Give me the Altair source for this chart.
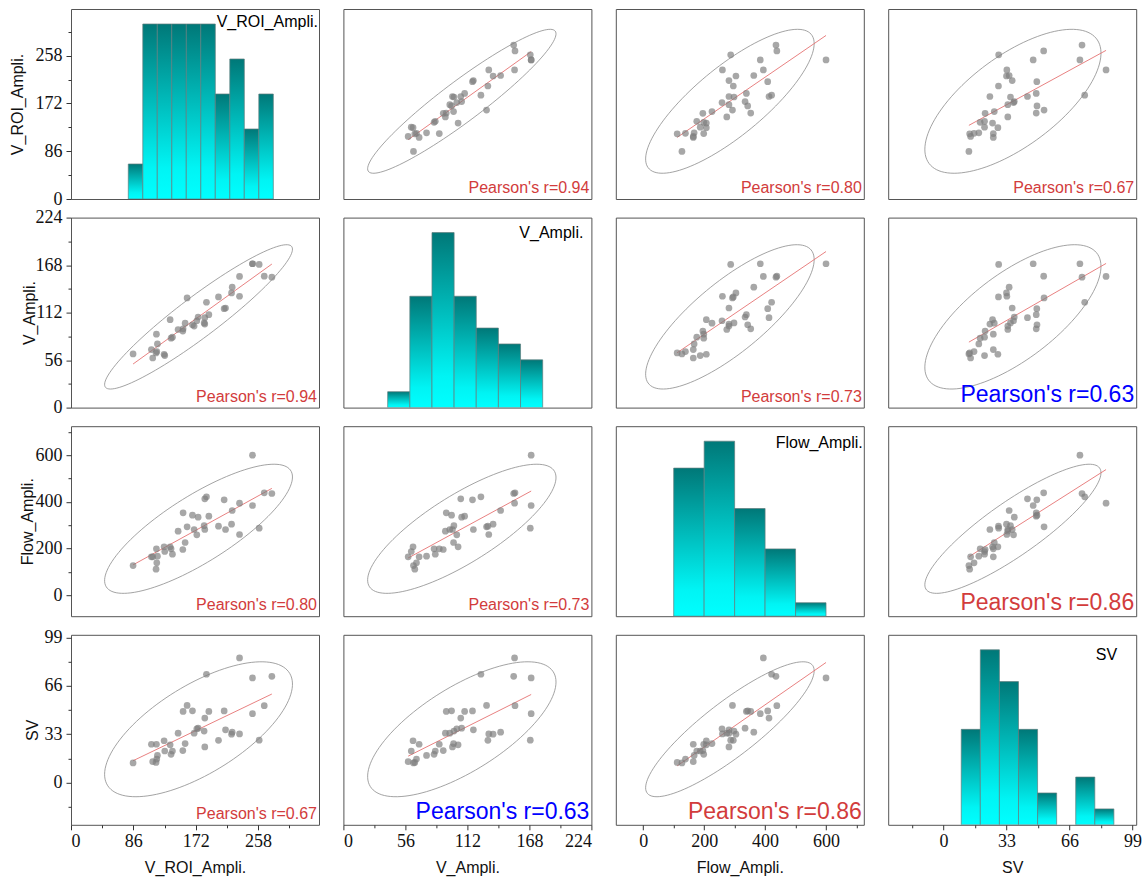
import altair as alt
import pandas as pd
import numpy as np

# ---------------- data ----------------
VAR_KEYS = ["vroi", "va", "flow", "sv"]
VAR_TITLES = ["V_ROI_Ampli.", "V_Ampli.", "Flow_Ampli.", "SV"]

V_ROI = [85.6, 110.9, 112.7, 117.8, 119.2, 118.3, 117.3, 128.4, 129.3, 136.7,
         138.0, 139.9, 147.7, 154.6, 154.2, 157.4, 160.1, 167.5, 169.8, 175.3,
         173.5, 186.8, 184.5, 183.6, 184.5, 190.1, 203.4, 211.2, 213.1, 222.3,
         221.4, 232.4, 232.4, 250.3, 250.3, 259.5, 266.5, 277.0]
V_AMPLI = [63.3, 68.4, 58.5, 86.6, 75.1, 66.0, 64.5, 62.9, 61.3, 103.6,
           81.9, 83.0, 92.1, 92.9, 90.2, 99.5, 129.3, 97.7, 96.1, 106.8,
           102.4, 124.2, 106.0, 99.8, 98.5, 109.5, 130.5, 116.6, 117.4, 142.0,
           135.2, 154.6, 131.3, 169.6, 169.6, 168.8, 155.0, 153.8]
FLOW = [127.1, 164.3, 164.3, 198.6, 167.1, 138.6, 111.4, 207.1, 187.1, 207.1,
        198.6, 175.7, 274.3, 352.9, 195.7, 225.7, 292.9, 342.9, 281.4, 334.3,
        258.6, 421.4, 412.9, 298.0, 281.4, 338.6, 295.7, 408.6, 281.4, 362.9,
        304.3, 394.3, 260.0, 600.0, 384.3, 287.1, 438.6, 435.7]
SV = [13.3, 26.1, 14.2, 26.1, 18.5, 16.0, 13.7, 28.5, 21.5, 25.7,
      19.2, 21.5, 33.7, 48.6, 21.8, 26.6, 52.7, 49.0, 33.7, 37.1,
      36.7, 74.0, 44.0, 35.1, 24.3, 48.6, 28.8, 48.9, 36.0, 34.4,
      33.0, 85.2, 33.2, 71.5, 47.0, 28.9, 52.5, 72.6]

# histograms: first bin start, bin width, counts
VROI_HIST = (79, 20, [1, 5, 5, 5, 5, 5, 3, 4, 2, 3])
VA_HIST = (40, 20, [1, 7, 11, 7, 5, 4, 3])
FLOW_HIST = (100, 100, [11, 13, 8, 5, 1])
SV_HIST = (9.3, 10, [6, 11, 9, 6, 2, 0, 3, 1])
HISTS = [VROI_HIST, VA_HIST, FLOW_HIST, SV_HIST]

# axis domains and tick values
DOMAINS = {"vroi": [0, 342], "va": [0, 224], "flow": [-90, 724], "sv": [-29, 101]}
MAJOR = {"vroi": 86, "va": 56, "flow": 200, "sv": 33}
TICKS = {
    "vroi": [0, 43, 86, 129, 172, 215, 258, 301],
    "va": [0, 28, 56, 84, 112, 140, 168, 196, 224],
    "flow": [0, 100, 200, 300, 400, 500, 600, 700],
    "sv": [-16.5, 0, 16.5, 33, 49.5, 66, 82.5, 99],
}

# Pearson labels (row, col)
PEARSON = [
    [None, "0.94", "0.80", "0.67"],
    ["0.94", None, "0.73", "0.63"],
    ["0.80", "0.73", None, "0.86"],
    ["0.67", "0.63", "0.86", None],
]

# ---------------- styles ----------------
W, H = 248, 190
RED = "#d23c3c"
BLUE = "#0000ff"
PEARSON_STYLE = {
    "0.63": (BLUE, 23),
    "0.86": (RED, 23),
}
DEFAULT_STYLE = (RED, 16)
DIAG_LABEL_POS = [(1, 18), (8, 20), (1, 22), (19, 25)]  # right margin, baseline from top
LEFT_TITLE_X = [-49, -37, -39, -34]
ELLIPSE_SCALE = 2.6

df = pd.DataFrame({"vroi": V_ROI, "va": V_AMPLI, "flow": FLOW, "sv": SV})

GRAD = alt.Gradient(
    gradient="linear",
    stops=[alt.GradientStop(color="#007878", offset=0),
           alt.GradientStop(color="#00f4f4", offset=0.82),
           alt.GradientStop(color="#00ffff", offset=1)],
    x1=0, x2=0, y1=0, y2=1,
)


def make_axis(var, orient, title, row=None):
    step = MAJOR[var]
    test = f"abs(datum.value / {step} - round(datum.value / {step})) < 1e-6"
    kw = dict(
        values=TICKS[var], orient=orient, title=title, format="d",
        labelExpr=f"({test}) ? datum.label : ''", labelOverlap=False,
        tickSize={"condition": {"test": test, "value": 5}, "value": 3},
    )
    if orient == "left":
        kw.update(titleX=LEFT_TITLE_X[row], titleBaseline="alphabetic", labelPadding=4)
    else:
        kw.update(titleY=48, titleBaseline="alphabetic", labelPadding=3)
    return alt.Axis(**kw)


def sc(var):
    return alt.Scale(domain=DOMAINS[var], nice=False, zero=False)


def ellipse_df(xv, yv, n=120, s=ELLIPSE_SCALE):
    xs = df[xv].to_numpy()
    ys = df[yv].to_numpy()
    mean = np.array([xs.mean(), ys.mean()])
    cov = np.cov(xs, ys)
    vals, vecs = np.linalg.eigh(cov)
    t = np.linspace(0, 2 * np.pi, n)
    circ = np.vstack([np.cos(t), np.sin(t)]) * (np.sqrt(vals)[:, None] * s)
    pts = vecs @ circ + mean[:, None]
    return pd.DataFrame({xv: pts[0], yv: pts[1], "k": np.arange(n)})


def scatter_panel(i, j):
    xv, yv = VAR_KEYS[j], VAR_KEYS[i]
    xaxis = make_axis(xv, "bottom", VAR_TITLES[j]) if i == 3 else None
    yaxis = make_axis(yv, "left", VAR_TITLES[i], row=i) if j == 0 else None
    X = alt.X(f"{xv}:Q", scale=sc(xv), axis=xaxis)
    Y = alt.Y(f"{yv}:Q", scale=sc(yv), axis=yaxis)
    pts = alt.Chart(df).mark_circle(size=45, color="#7d7d7d", opacity=0.68, clip=True).encode(x=X, y=Y)
    ell = alt.Chart(ellipse_df(xv, yv)).mark_line(color="#8c8c8c", strokeWidth=0.8, clip=True).encode(
        x=X, y=Y, order="k:Q")
    reg = alt.Chart(df).transform_regression(xv, yv).mark_line(
        color="#e57373", strokeWidth=0.9, clip=True).encode(x=X, y=Y)
    lab = PEARSON[i][j]
    color, size = PEARSON_STYLE.get(lab, DEFAULT_STYLE)
    txt = alt.Chart(pd.DataFrame({"t": [f"Pearson's r={lab}"]})).mark_text(
        align="right", baseline="alphabetic", font="Liberation Sans", fontSize=size, color=color
    ).encode(x=alt.value(W - 2), y=alt.value(H - 6), text="t:N")
    return alt.layer(ell, reg, pts, txt).properties(width=W, height=H)


def hist_panel(i):
    var = VAR_KEYS[i]
    start, step, counts = HISTS[i]
    hdf = pd.DataFrame({
        "start": [start + k * step for k in range(len(counts))],
        "end": [start + (k + 1) * step for k in range(len(counts))],
        "count": counts,
    })
    hdf = hdf[hdf["count"] > 0]
    xaxis = make_axis(var, "bottom", VAR_TITLES[i]) if i == 3 else None
    ymax = max(counts) * 190 / 175
    bars = alt.Chart(hdf).mark_bar(fill=GRAD, stroke="#5e7c7c", strokeWidth=0.7, clip=True).encode(
        x=alt.X("start:Q", scale=sc(var), axis=xaxis),
        x2="end:Q",
        y=alt.Y("count:Q", scale=alt.Scale(domain=[0, ymax], nice=False), axis=None),
        y2=alt.datum(0),
    )
    rm, bl = DIAG_LABEL_POS[i]
    txt = alt.Chart(pd.DataFrame({"t": [VAR_TITLES[i]]})).mark_text(
        align="right", baseline="alphabetic", font="Liberation Sans", fontSize=16, color="#000"
    ).encode(x=alt.value(W - rm), y=alt.value(bl), text="t:N")
    layers = [bars, txt]
    if i == 0:
        ghost = alt.Chart(df).mark_point(opacity=0).encode(
            y=alt.Y(f"{var}:Q", scale=sc(var), axis=make_axis(var, "left", VAR_TITLES[0], row=0)))
        ch = alt.layer(*layers, ghost).resolve_scale(y="independent")
    else:
        ch = alt.layer(*layers)
    return ch.properties(width=W, height=H)


panels = []
for i in range(4):
    for j in range(4):
        panels.append(hist_panel(i) if i == j else scatter_panel(i, j))

chart = alt.ConcatChart(
    concat=panels, columns=4, spacing={"row": 18.6, "column": 24.4}, bounds="flush"
).properties(
    padding={"left": 8, "top": 8, "right": 4, "bottom": 4}
).configure_view(
    stroke="#555555", strokeWidth=1
).configure_axis(
    domain=False, grid=False, tickColor="#333333",
    labelFont="Liberation Serif", labelFontSize=18, labelColor="#111111",
    titleFont="Liberation Sans", titleFontSize=16, titleFontWeight="normal", titleColor="#111111",
)

chart.save("out.html", embed_options={"renderer": "svg", "actions": False})
